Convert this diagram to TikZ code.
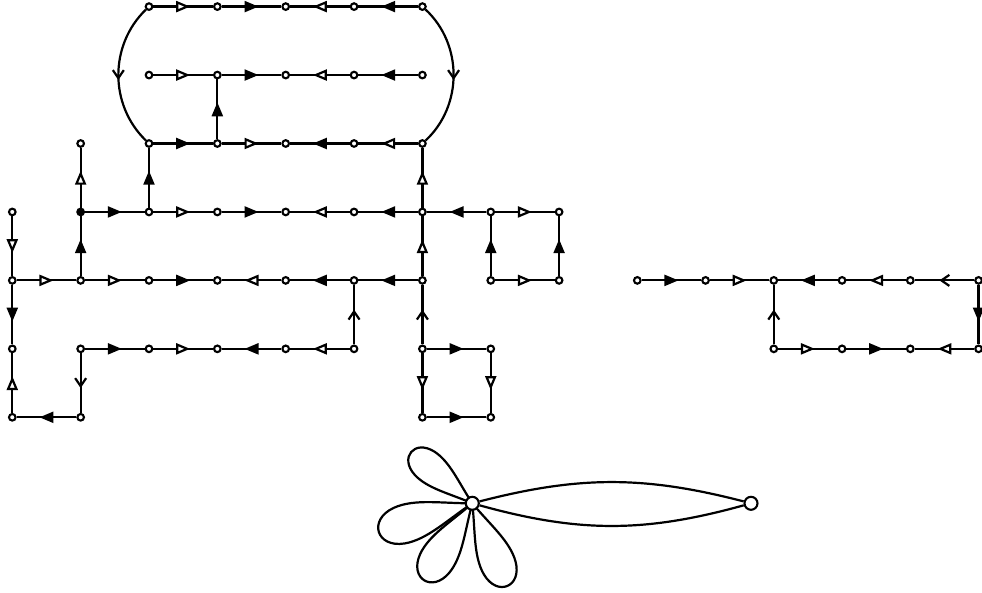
\documentclass[tikz,border=0pt]{standalone}
\usetikzlibrary{arrows.meta,decorations.markings}
\tikzset{
 v/.style={circle,draw,fill=white,line width=2.1pt,inner sep=0pt,minimum size=6.6pt},
 vb/.style={v,fill=black},
 e/.style={line width=2.2pt},
 F/.style={e,postaction={decorate,decoration={markings,mark=at position 0.5 with {\arrow[xshift=7pt]{Triangle[length=14pt,width=11pt]}}}}},
 O/.style={e,postaction={decorate,decoration={markings,mark=at position 0.5 with {\arrow[xshift=7pt]{Triangle[open,fill=white,length=14pt,width=11pt]}}}}},
 V/.style={e,postaction={decorate,decoration={markings,mark=at position 0.5 with {\arrow[xshift=5pt]{Straight Barb[length=8pt,width=11pt]}}}}},
}
\begin{document}
\begin{tikzpicture}[x=1pt,y=1pt]
\useasboundingbox (0,0) rectangle (982,-593);
% left component
\begin{scope}[shift={(12.3pt,-6.6pt)},x=68.35pt,y=-68.45pt]
\foreach \i/\k in {2/0,3/0,4/0,5/0,6/0,
  2/1,3/1,4/1,5/1,6/1,
  1/2,2/2,3/2,4/2,5/2,6/2,
  0/3,2/3,3/3,4/3,5/3,6/3,7/3,8/3,
  0/4,1/4,2/4,3/4,4/4,5/4,6/4,7/4,8/4,
  0/5,1/5,2/5,3/5,4/5,5/5,6/5,7/5,
  0/6,1/6,6/6,7/6}
  \node[v] (n\i\k) at (\i,\k) {};
\node[vb] (n13) at (1,3) {};
\end{scope}
% right component
\begin{scope}[shift={(637.3pt,-6.6pt)},x=68.25pt,y=-68.45pt]
\foreach \i/\k in {0/4,1/4,2/4,3/4,4/4,5/4,2/5,3/5,4/5,5/5}
  \node[v] (r\i\k) at (\i,\k) {};
\end{scope}
% row 0
\draw[O] (n20) -- (n30);
\draw[F] (n30) -- (n40);
\draw[O] (n50) -- (n40);
\draw[F] (n60) -- (n50);
\draw[V] (n20) to[bend right=46] (n22);
\draw[V] (n60) to[bend left=47] (n62);
% row 1
\draw[O] (n21) -- (n31);
\draw[F] (n31) -- (n41);
\draw[O] (n51) -- (n41);
\draw[F] (n61) -- (n51);
\draw[F] (n32) -- (n31);
% row 2
\draw[F] (n22) -- (n32);
\draw[O] (n32) -- (n42);
\draw[F] (n52) -- (n42);
\draw[O] (n62) -- (n52);
\draw[F] (n23) -- (n22);
\draw[O] (n63) -- (n62);
\draw[O] (n13) -- (n12);
% row 3
\draw[F] (n13) -- (n23);
\draw[O] (n23) -- (n33);
\draw[F] (n33) -- (n43);
\draw[O] (n53) -- (n43);
\draw[F] (n63) -- (n53);
\draw[F] (n73) -- (n63);
\draw[O] (n73) -- (n83);
\draw[O] (n03) -- (n04);
\draw[F] (n14) -- (n13);
\draw[F] (n74) -- (n73);
\draw[F] (n84) -- (n83);
\draw[O] (n74) -- (n84);
\draw[O] (n64) -- (n63);
% row 4
\draw[O] (n04) -- (n14);
\draw[O] (n14) -- (n24);
\draw[F] (n24) -- (n34);
\draw[O] (n44) -- (n34);
\draw[F] (n54) -- (n44);
\draw[F] (n64) -- (n54);
\draw[F] (n04) -- (n05);
\draw[O] (n06) -- (n05);
\draw[F] (n16) -- (n06);
\draw[V] (n15) -- (n16);
\draw[V] (n55) -- (n54);
% row 5
\draw[F] (n15) -- (n25);
\draw[O] (n25) -- (n35);
\draw[F] (n45) -- (n35);
\draw[O] (n55) -- (n45);
\draw[V] (n65) -- (n64);
\draw[F] (n65) -- (n75);
\draw[O] (n65) -- (n66);
\draw[O] (n75) -- (n76);
\draw[F] (n66) -- (n76);
% right component
\draw[F] (r04) -- (r14);
\draw[O] (r14) -- (r24);
\draw[F] (r34) -- (r24);
\draw[O] (r44) -- (r34);
\draw[V] (r54) -- (r44);
\draw[F] (r54) -- (r55);
\draw[O] (r25) -- (r35);
\draw[F] (r35) -- (r45);
\draw[O] (r55) -- (r45);
\draw[V] (r25) -- (r24);
% flower
\coordinate (cc) at (472.3,-503.3);
\foreach \a/\l in {140/80,197/98,238/91,293/90}
  \draw[e,shift={(cc)},rotate=\a,scale=\l]
    (0,0) .. controls (0.3,0.09) and (0.55,0.22) .. (0.78,0.19)
    .. controls (1.07,0.15) and (1.07,-0.15) .. (0.78,-0.19)
    .. controls (0.55,-0.22) and (0.3,-0.09) .. (0,0);
\node[v,minimum size=13pt] (c) at (cc) {};
\node[v,minimum size=13pt] (d) at (751,-503.3) {};
\draw[e] (c) to[bend left=14.5] (d);
\draw[e] (c) to[bend right=15.5] (d);
\end{tikzpicture}
\end{document}
